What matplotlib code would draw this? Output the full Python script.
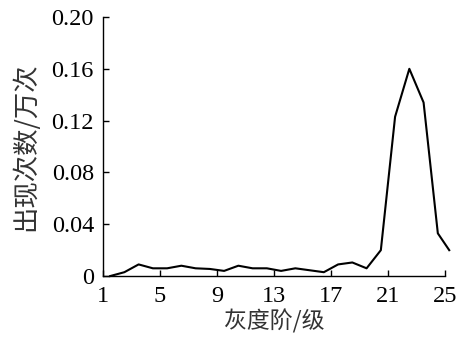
import numpy as np
import matplotlib
matplotlib.use("Agg")
import matplotlib.pyplot as plt

# gray level positions and occurrence counts (10^4 times)
gray_level = [1.5, 2.5, 3.5, 4.5, 5.5, 6.5, 7.5, 8.5, 9.5, 10.5, 11.5, 12.5,
              13.5, 14.5, 15.5, 16.5, 17.5, 18.5, 19.5, 20.5, 21.5, 22.5,
              23.5, 24.5, 25.3]
counts = [0.000, 0.003, 0.009, 0.006, 0.006, 0.008, 0.006, 0.0055, 0.004,
          0.008, 0.006, 0.006, 0.004, 0.006, 0.0045, 0.003, 0.009, 0.0105,
          0.006, 0.020, 0.123, 0.160, 0.134, 0.033, 0.020]

xticks = [1, 5, 9, 13, 17, 21, 25]
yticks = [0, 0.04, 0.08, 0.12, 0.16, 0.20]
ytick_labels = ["0", "0.04", "0.08", "0.12", "0.16", "0.20"]

NUM_FONT = "Liberation Serif"
CJK_FONT = ["Noto Sans CJK SC", "DejaVu Sans"]

fig = plt.figure(figsize=(4.59, 3.40), dpi=100)
ax = fig.add_axes([0.2244, 0.188, 0.745, 0.762])

ax.plot(gray_level, counts, color="black", lw=1.5, clip_on=False)

ax.set_xlim(1, 25)
ax.set_ylim(0, 0.20)
ax.set_xticks(xticks)
ax.set_xticklabels([str(t) for t in xticks], fontfamily=NUM_FONT, fontsize=17.5)
ax.set_yticks(yticks)
ax.set_yticklabels(ytick_labels, fontfamily=NUM_FONT, fontsize=17.5)
ax.tick_params(direction="in", length=4, width=1)
ax.tick_params(axis="x", pad=7)
ax.tick_params(axis="y", pad=6.5)

ax.spines[["top", "right"]].set_visible(False)
for s in ["left", "bottom"]:
    ax.spines[s].set_linewidth(1)

ax.set_xlabel("灰度阶/级", family=CJK_FONT, fontsize=16.5, fontweight="light",
              color="#333333", labelpad=2)
ax.set_ylabel("出现次数/万次", family=CJK_FONT, fontsize=19, fontweight="light",
              color="#333333", labelpad=9)

fig.savefig("out.png", dpi=100)
